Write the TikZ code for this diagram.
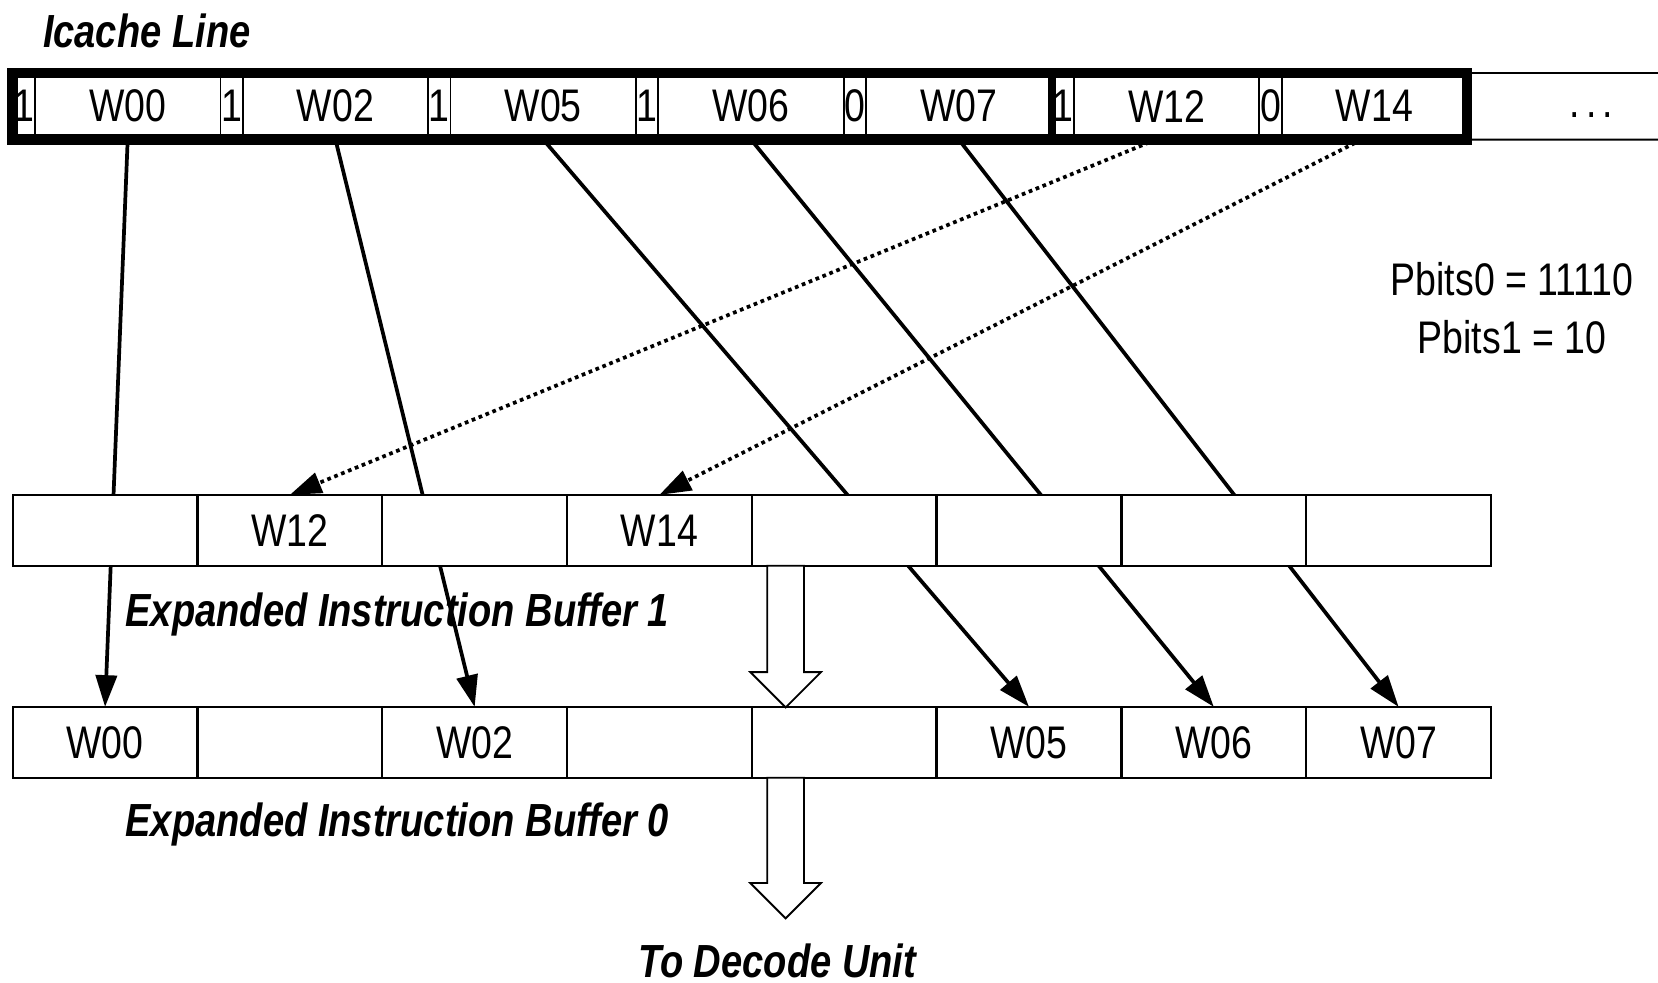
\documentclass[tikz,border=0pt]{standalone}
\usepackage{fontspec}
\setmainfont{Liberation Sans}[FakeStretch=0.82]
\usetikzlibrary{arrows.meta,shapes.arrows,backgrounds}

\begin{document}
\begin{tikzpicture}[
  >={Triangle[length=3mm,width=2mm]},
  font={\fontsize{12.3}{14}\selectfont},
  bitcell/.style={draw=black, line width=0.5pt, minimum width=2.1mm, minimum height=6.3mm, inner sep=0pt, outer sep=0pt},
  wordcell/.style={draw=black, line width=0.5pt, minimum width=17.55mm, minimum height=6.3mm, inner sep=0pt, outer sep=0pt},
  bufcell/.style={draw=black, fill=white, line width=0.6pt, minimum width=17.475mm, minimum height=6.7mm, inner sep=0pt, outer sep=0pt},
  grpframe/.style={draw=black, line width=2.8pt},
  movearrow/.style={->, line width=1pt},
  fillarrow/.style={->, line width=1pt, densely dotted},
  lbl/.style={font={\fontsize{12.5}{14}\selectfont\bfseries\itshape}, inner sep=0pt},
  passarrow/.style={single arrow, draw=black, fill=white, line width=0.5pt, shape border rotate=270, minimum width=0pt, inner sep=1.65mm, single arrow head extend=1.6mm, outer sep=0pt}
]
\useasboundingbox (0,0) rectangle (15.68,9.29);
% icache line
\node[lbl, anchor=base west] (icl) at (0.40,8.84) {Icache Line};
\node[bitcell] (p0) at (0.2250,8.285) {1};
\node[wordcell] (w00) at (1.2075,8.285) {W00};
\node[bitcell] (p1) at (2.1900,8.285) {1};
\node[wordcell] (w02) at (3.1725,8.285) {W02};
\node[bitcell] (p2) at (4.1550,8.285) {1};
\node[wordcell] (w05) at (5.1375,8.285) {W05};
\node[bitcell] (p3) at (6.1200,8.285) {1};
\node[wordcell] (w06) at (7.1025,8.285) {W06};
\node[bitcell] (p4) at (8.0850,8.285) {0};
\node[wordcell] (w07) at (9.0675,8.285) {W07};
\node[bitcell] (p5) at (10.0500,8.285) {1};
\node[wordcell] (w12) at (11.0325,8.285) {W12};
\node[bitcell] (p6) at (12.0150,8.285) {0};
\node[wordcell] (w14) at (12.9975,8.285) {W14};
\draw[grpframe] (p0.north west) rectangle (w14.south east);
\draw[grpframe, line width=2.2pt] (w07.north east) -- (w07.south east);
\node[inner sep=0pt, anchor=base] (more) at (15.05,8.18) {.\hspace{0.6mm}.\hspace{0.6mm}.};
\coordinate (moretop) at (15.68,8.60);
\coordinate (morebot) at (15.68,7.97);
\draw[line width=0.5pt] (w14.north east) -- (moretop);
\draw[line width=0.5pt] (w14.south east) -- (morebot);
\node[anchor=base] (pb0) at (14.30,6.495) {Pbits0 = 11110};
\node[anchor=base] (pb1) at (14.30,5.945) {Pbits1 = 10};
% expanded buffer 1
\node[bufcell] (ib1c0) at (0.9938,4.275) {};
\node[bufcell] (ib1c1) at (2.7413,4.275) {W12};
\node[bufcell] (ib1c2) at (4.4888,4.275) {};
\node[bufcell] (ib1c3) at (6.2363,4.275) {W14};
\node[bufcell] (ib1c4) at (7.9838,4.275) {};
\node[bufcell] (ib1c5) at (9.7313,4.275) {};
\node[bufcell] (ib1c6) at (11.4788,4.275) {};
\node[bufcell] (ib1c7) at (13.2263,4.275) {};
\node[lbl, anchor=base west] (eib1) at (1.18,3.365) {Expanded Instruction Buffer 1};
% expanded buffer 0
\node[bufcell] (ib0c0) at (0.9938,2.270) {W00};
\node[bufcell] (ib0c1) at (2.7413,2.270) {};
\node[bufcell] (ib0c2) at (4.4888,2.270) {W02};
\node[bufcell] (ib0c3) at (6.2363,2.270) {};
\node[bufcell] (ib0c4) at (7.9838,2.270) {};
\node[bufcell] (ib0c5) at (9.7313,2.270) {W05};
\node[bufcell] (ib0c6) at (11.4788,2.270) {W06};
\node[bufcell] (ib0c7) at (13.2263,2.270) {W07};
\node[lbl, anchor=base west] (eib0) at (1.18,1.375) {Expanded Instruction Buffer 0};
% shifts between buffers
\node[passarrow, minimum height=13.4mm, anchor=tail] (pass1) at ([xshift=3.2mm]ib1c4.south west) {};
\node[passarrow, minimum height=13.3mm, anchor=tail] (pass0) at ([xshift=3.2mm]ib0c4.south west) {};
\node[lbl, anchor=base] (dec) at (7.35,0.045) {To Decode Unit};
% word moves
\begin{scope}[on background layer]
\draw[movearrow] (w00.south) -- (ib0c0.north);
\draw[movearrow] (w02.south) -- (ib0c2.north);
\draw[movearrow] (w05.south) -- (ib0c5.north);
\draw[movearrow] (w06.south) -- (ib0c6.north);
\draw[movearrow] (w07.south) -- (ib0c7.north);
\draw[fillarrow] ([xshift=-1mm]w12.south) -- (ib1c1.north);
\draw[fillarrow] ([xshift=-1.2mm]w14.south) -- (ib1c3.north);
\end{scope}
\end{tikzpicture}
\end{document}
